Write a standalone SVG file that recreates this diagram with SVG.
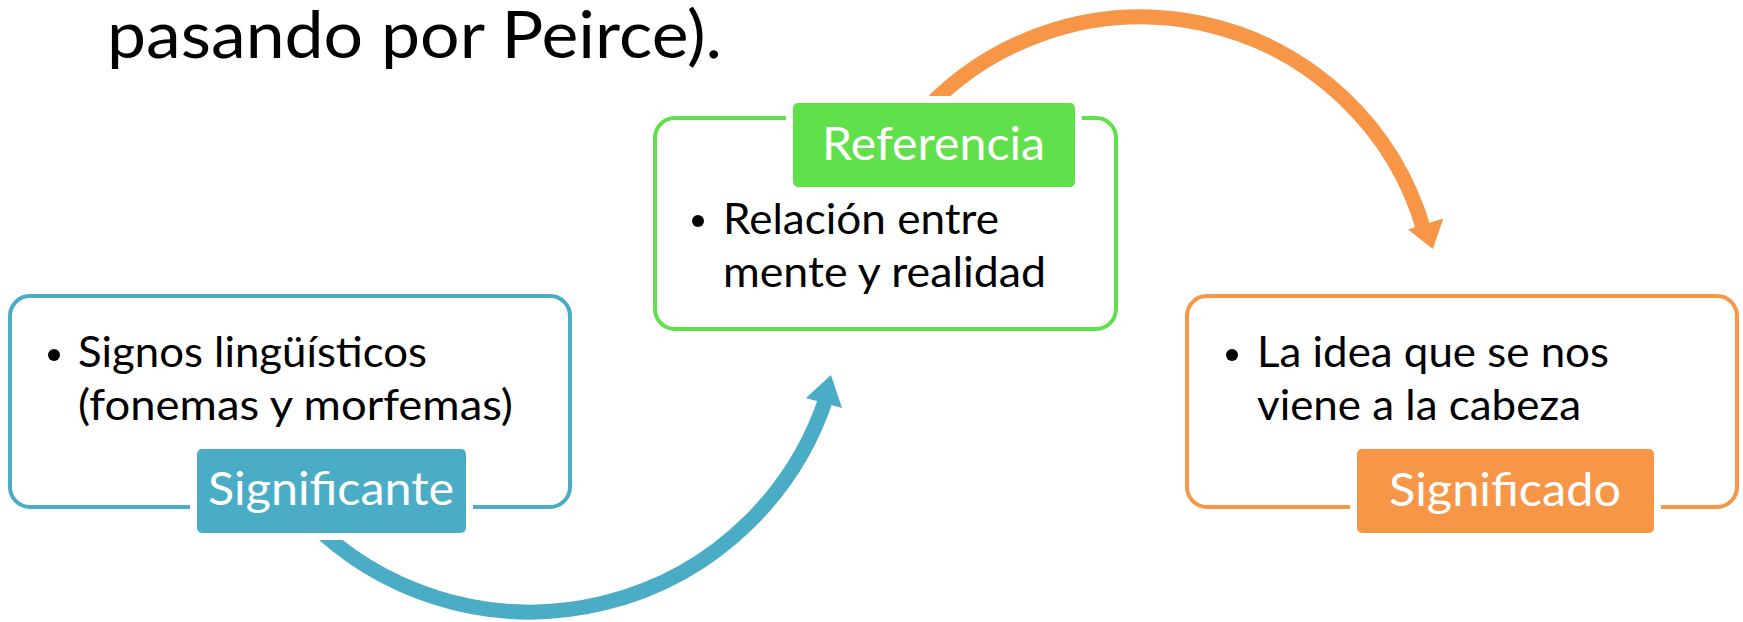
<svg xmlns="http://www.w3.org/2000/svg" width="1743" height="622" viewBox="0 0 1743 622">
  <style>
    text { font-family: Lato, "Liberation Sans", sans-serif; }
    .title { font-size: 66px; fill: #000; }
    .body { font-size: 43px; fill: #000; }
    .lbl { font-size: 47px; fill: #fff; }
    .box { fill: #fff; stroke-width: 4; }
    .halo { stroke: #fff; stroke-width: 14; paint-order: stroke; }
    .arc { fill: none; stroke-width: 15; stroke-linecap: butt; }
    .dot { fill: #000; }
  </style>
  <rect width="1743" height="622" fill="#fff"/>

  <g id="title">
    <text class="title" x="107" y="58" textLength="615" lengthAdjust="spacingAndGlyphs">pasando por Peirce).</text>
  </g>

  <!-- box frames -->
  <g id="node-significante-frame">
    <rect class="box" x="10" y="296" width="560" height="211" rx="20" stroke="#4BACC6"/>
  </g>
  <g id="node-referencia-frame">
    <rect class="box" x="655" y="118" width="461" height="211" rx="20" stroke="#60E04A"/>
  </g>
  <g id="node-significado-frame">
    <rect class="box" x="1187" y="296" width="550" height="211" rx="20" stroke="#F79646"/>
  </g>

  <g id="connectors">
    <path class="arc" stroke="#4BACC6" d="M 309.4 520.6 A 312 312 0 0 0 826.7 396.4"/>
    <polygon fill="#4BACC6" points="806,398 842,408 831,375"/>
    <path class="arc" stroke="#F79646" d="M 913.3 123.7 A 295 295 0 0 1 1424.5 232.4"/>
    <polygon fill="#F79646" points="1408,229.5 1443.3,218.4 1432.9,249.1"/>
  </g>

  <g id="node-significante">
    <rect class="halo" x="197" y="449" width="269" height="84" rx="5" fill="#4BACC6"/>
    <text class="lbl" x="208" y="505" textLength="246" lengthAdjust="spacingAndGlyphs">Significante</text>
    <circle class="dot" cx="54" cy="355" r="6"/>
    <text class="body" x="78" y="367" textLength="349" lengthAdjust="spacingAndGlyphs">Signos lingüísticos</text>
    <text class="body" x="78" y="420" textLength="435" lengthAdjust="spacingAndGlyphs">(fonemas y morfemas)</text>
  </g>

  <g id="node-referencia">
    <rect class="halo" x="793" y="103" width="282" height="84" rx="5" fill="#60E04A"/>
    <text class="lbl" x="822" y="160" textLength="223" lengthAdjust="spacingAndGlyphs">Referencia</text>
    <circle class="dot" cx="698" cy="221" r="6"/>
    <text class="body" x="723" y="234" textLength="276" lengthAdjust="spacingAndGlyphs">Relación entre</text>
    <text class="body" x="723" y="287" textLength="323" lengthAdjust="spacingAndGlyphs">mente y realidad</text>
  </g>

  <g id="node-significado">
    <rect class="halo" x="1357" y="449" width="297" height="84" rx="5" fill="#F79646"/>
    <text class="lbl" x="1389" y="506" textLength="232" lengthAdjust="spacingAndGlyphs">Significado</text>
    <circle class="dot" cx="1232" cy="355" r="6"/>
    <text class="body" x="1257" y="367" textLength="352" lengthAdjust="spacingAndGlyphs">La idea que se nos</text>
    <text class="body" x="1257" y="420" textLength="324" lengthAdjust="spacingAndGlyphs">viene a la cabeza</text>
  </g>
</svg>
